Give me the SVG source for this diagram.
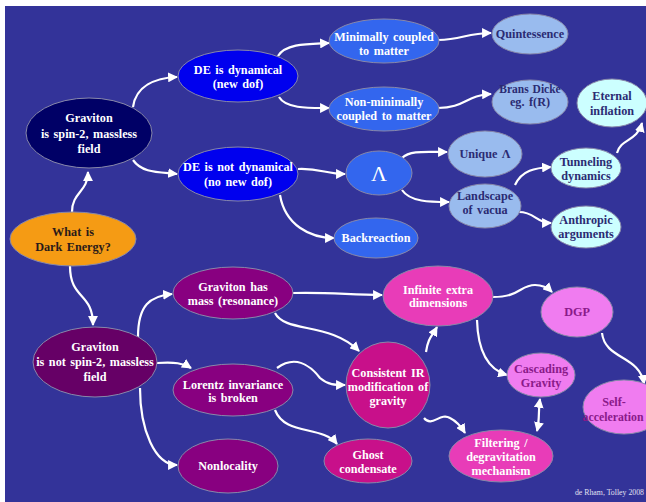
<svg xmlns="http://www.w3.org/2000/svg" width="646" height="502" viewBox="0 0 646 502">
<defs>
<marker id="ah" viewBox="0 0 10 10" refX="9" refY="5" markerWidth="4.5" markerHeight="4.5" orient="auto-start-reverse" markerUnits="strokeWidth">
<path d="M0,0 L10,5 L0,10 Z" fill="#ffffff"/>
</marker>
<style>
.n ellipse{stroke:#8888aa;stroke-width:1}
.n text{font-family:"Liberation Serif","Times New Roman",serif;font-weight:bold;font-size:12.2px;text-anchor:middle;word-spacing:1.5px}
.w text{fill:#ffffff}
.d text{fill:#2b2b73}
.p text{fill:#8a1a8a}
.o text{fill:#2a1a1a}
.c path{fill:none;stroke:#ffffff;stroke-width:2.2;marker-end:url(#ah)}
</style>
</defs>
<rect x="0" y="0" width="646" height="502" fill="#ffffff"/>
<rect x="5" y="6" width="641" height="496" fill="#333399"/>

<g class="c" id="connectors">
<path d="M72,212 C72,192 88,192 88,172"/>
<path d="M70,266 C70,300 93,292 93,325"/>
<path d="M133,107 C136,86 155,78 177,77"/>
<path d="M133,160 C142,173 158,172 177,174"/>
<path d="M278,56 C286,43 310,44 329,43"/>
<path d="M279,97 C286,109 310,108 329,108"/>
<path d="M438,40 C462,40 466,33 491,33"/>
<path d="M438,108 C465,108 466,95 491,94"/>
<path d="M298,169 C320,168 326,174 345,174"/>
<path d="M280,195 C285,225 310,238 334,238"/>
<path d="M402,158 C410,150 426,152 447,152"/>
<path d="M402,190 C410,202 430,202 449,202"/>
<path d="M515,185 C522,170 535,168 551,167"/>
<path d="M519,212 C535,212 536,223 551,223"/>
<path d="M617,153 C621,138 637,142 642,123"/>
<path d="M138,337 C138,305 150,296 172,294"/>
<path d="M157,363 C175,362 183,363 191,368"/>
<path d="M140,388 C140,430 155,465 177,465"/>
<path d="M293,293 C330,292 350,295 382,295"/>
<path d="M275,313 C285,333 330,322 359,351"/>
<path d="M277,368 C295,355 310,365 320,378 C328,385 335,385 345,385"/>
<path d="M275,410 C285,436 322,425 337,444"/>
<path d="M426,352 C428,338 432,336 437,327"/>
<path d="M424,418 C432,428 440,412 450,418 C458,422 462,428 465,433"/>
<path d="M493,297 C520,297 520,285 535,285 C545,285 550,290 552,292"/>
<path d="M477,320 C478,355 490,370 507,375"/>
<path d="M537,431 C540,418 538,412 540,399" marker-start="url(#ah)"/>
<path d="M602,333 C605,360 640,355 644,384"/>
</g>

<g id="what-is-de" class="n o"><ellipse cx="73" cy="239" rx="63" ry="27" fill="#f59b14"/><text x="73" y="236">What is</text><text x="73" y="251">Dark Energy?</text></g>
<g id="graviton-spin2" class="n w"><ellipse cx="89" cy="133" rx="63" ry="35" fill="#000066"/><text x="89" y="122">Graviton</text><text x="89" y="138">is spin-2, massless</text><text x="89" y="153">field</text></g>
<g id="de-dynamical" class="n w"><ellipse cx="238" cy="76" rx="60" ry="26" fill="#0000ee"/><text x="238" y="74">DE is dynamical</text><text x="238" y="88">(new dof)</text></g>
<g id="de-not-dynamical" class="n w"><ellipse cx="238" cy="174" rx="60" ry="27" fill="#0000ee"/><text x="238" y="171">DE is not dynamical</text><text x="238" y="186">(no new dof)</text></g>
<g id="minimally" class="n w"><ellipse cx="384" cy="41" rx="55" ry="22" fill="#3366ee"/><text x="384" y="41">Minimally coupled</text><text x="384" y="55">to matter</text></g>
<g id="non-minimally" class="n w"><ellipse cx="384" cy="109" rx="55" ry="22" fill="#3366ee"/><text x="384" y="106">Non-minimally</text><text x="384" y="120">coupled to matter</text></g>
<g id="quintessence" class="n d"><ellipse cx="530" cy="34" rx="38" ry="20" fill="#99bbee"/><text x="530" y="38">Quintessence</text></g>
<g id="brans-dicke" class="n d"><ellipse cx="530" cy="102" rx="38" ry="22" fill="#99bbee"/><text x="530" y="93" style="font-size:11.5px;word-spacing:1px">Brans Dicke</text><text x="530" y="106">eg. f(R)</text></g>
<g id="eternal-inflation" class="n d"><ellipse cx="612" cy="103" rx="35" ry="24" fill="#ccffff"/><text x="612" y="100">Eternal</text><text x="612" y="115">inflation</text></g>
<g id="lambda" class="n w"><ellipse cx="379" cy="173" rx="33" ry="22" fill="#3366ee"/><text x="379" y="181" style="font-size:22px;font-weight:normal">Λ</text></g>
<g id="backreaction" class="n w"><ellipse cx="376" cy="238" rx="42" ry="20" fill="#3366ee"/><text x="376" y="242">Backreaction</text></g>
<g id="unique-lambda" class="n d"><ellipse cx="485" cy="154" rx="37" ry="23" fill="#99bbee"/><text x="485" y="158">Unique Λ</text></g>
<g id="landscape" class="n d"><ellipse cx="485" cy="206" rx="36" ry="22" fill="#99bbee"/><text x="485" y="200">Landscape</text><text x="485" y="214">of vacua</text></g>
<g id="tunneling" class="n d"><ellipse cx="586" cy="168" rx="35" ry="20" fill="#ccffff"/><text x="586" y="166">Tunneling</text><text x="586" y="180">dynamics</text></g>
<g id="anthropic" class="n d"><ellipse cx="586" cy="227" rx="35" ry="21" fill="#ccffff"/><text x="586" y="224">Anthropic</text><text x="586" y="238">arguments</text></g>

<g id="graviton-not-spin2" class="n w"><ellipse cx="95" cy="362" rx="62" ry="35" fill="#660066"/><text x="95" y="351">Graviton</text><text x="95" y="366">is not spin-2, massless</text><text x="95" y="381">field</text></g>
<g id="graviton-mass" class="n w"><ellipse cx="233" cy="293" rx="60" ry="26" fill="#880080"/><text x="233" y="291">Graviton has</text><text x="233" y="305">mass (resonance)</text></g>
<g id="lorentz" class="n w"><ellipse cx="233" cy="390" rx="60" ry="26" fill="#880080"/><text x="233" y="389">Lorentz invariance</text><text x="233" y="402">is broken</text></g>
<g id="nonlocality" class="n w"><ellipse cx="228" cy="466" rx="50" ry="27" fill="#880080"/><text x="228" y="470">Nonlocality</text></g>
<g id="infinite-extra" class="n w"><ellipse cx="438" cy="296" rx="55" ry="30" fill="#e83cb8"/><text x="438" y="294">Infinite extra</text><text x="438" y="307">dimensions</text></g>
<g id="consistent-ir" class="n w"><ellipse cx="388" cy="385" rx="42" ry="43" fill="#c8108a"/><text x="388" y="377">Consistent IR</text><text x="388" y="391">modification of</text><text x="388" y="405">gravity</text></g>
<g id="ghost-condensate" class="n w"><ellipse cx="368" cy="461" rx="44" ry="22" fill="#c8108a"/><text x="368" y="459">Ghost</text><text x="368" y="473">condensate</text></g>
<g id="filtering" class="n w"><ellipse cx="501" cy="456" rx="52" ry="26" fill="#e83cb8"/><text x="501" y="447">Filtering /</text><text x="501" y="461">degravitation</text><text x="501" y="475">mechanism</text></g>
<g id="cascading" class="n p"><ellipse cx="541" cy="375" rx="34" ry="22" fill="#f07cf0"/><text x="541" y="373">Cascading</text><text x="541" y="387">Gravity</text></g>
<g id="dgp" class="n p"><ellipse cx="577" cy="312" rx="36" ry="25" fill="#f07cf0"/><text x="577" y="316">DGP</text></g>
<g id="self-acceleration" class="n p"><ellipse cx="624" cy="407" rx="41" ry="27" fill="#f07cf0"/><text x="614" y="406">Self-</text><text x="613" y="421" style="font-size:11.8px">acceleration</text></g>

<text x="644" y="495" style="font-family:'Liberation Serif','Times New Roman',serif;font-size:7.8px;fill:#e0e0f0;text-anchor:end">de Rham, Tolley 2008</text>
</svg>
